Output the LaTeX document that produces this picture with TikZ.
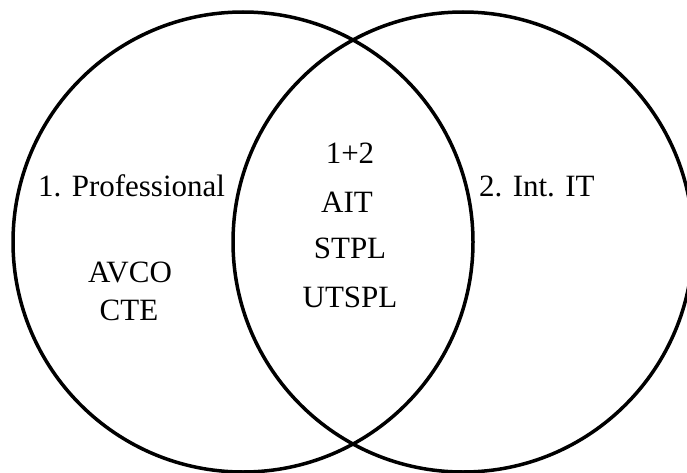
\documentclass[tikz,border=0pt]{standalone}
\usepackage{fontspec}
\setmainfont{Liberation Serif}
\begin{document}
\begin{tikzpicture}[x=1pt, y=-1pt,
  setring/.style={circle, draw=black, line width=3.5pt, minimum size=460pt, inner sep=0pt},
  label/.style={inner sep=0pt, font=\fontsize{31}{37}\selectfont}]
  \useasboundingbox (0,0) rectangle (687,473);
  \clip (0,0) rectangle (687,473);
  % the two overlapping sets
  \node[setring] (setA) at (243,242) {};
  \node[setring] (setB) at (463,242) {};
  % set 1 only
  \node[label, anchor=base west] (prof) at (38,196) {1. Professional};
  \node[label, anchor=base] (avco) at (130,282) {AVCO};
  \node[label, anchor=base] (cte) at (129,320) {CTE};
  % intersection
  \node[label, anchor=base] (both) at (350,164) {1+2};
  \node[label, anchor=base] (ait) at (347,212) {AIT};
  \node[label, anchor=base] (stpl) at (350,258) {STPL};
  \node[label, anchor=base] (utspl) at (350,307) {UTSPL};
  % set 2 only
  \node[label, anchor=base west] (intit) at (479,196) {2. Int. IT};
\end{tikzpicture}
\end{document}
